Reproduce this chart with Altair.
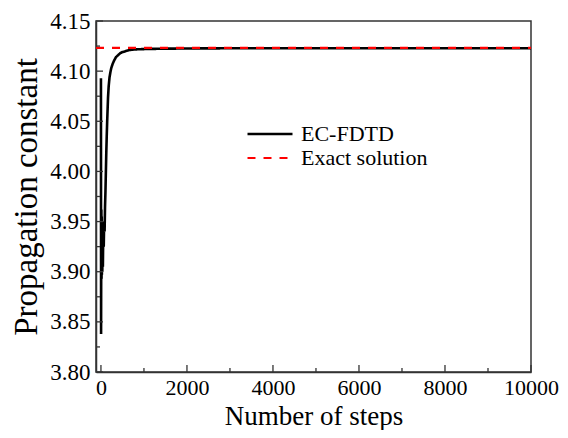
import altair as alt
import pandas as pd

# ---- data ----
series_names = ["EC-FDTD", "Exact solution"]

fdtd_steps = [0, 3, 6, 10, 14, 18, 22, 27, 32, 38, 45, 55, 65, 75, 85, 95, 105, 115,
              125, 135, 145, 155, 165, 180, 200, 220, 240, 270, 300, 350, 400, 450,
              500, 580, 660, 750, 850, 1000, 1200, 1500, 2000, 3000, 5000, 7500, 10000]
fdtd_values = [4.093, 3.838, 3.905, 3.962, 3.893, 3.955, 3.897, 3.950, 3.900, 3.948, 3.905,
               3.945, 3.925, 3.950, 3.940, 3.965, 3.980, 4.000, 4.020, 4.036, 4.050, 4.062,
               4.074, 4.085, 4.094, 4.099, 4.103, 4.107, 4.110, 4.114, 4.116, 4.118,
               4.119, 4.120, 4.121, 4.1215, 4.1218, 4.122, 4.1222, 4.1224, 4.1226, 4.1228,
               4.1229, 4.1229, 4.1229]

exact_steps = [-115, 10000]
exact_value = 4.1233

x_ticks = [0, 2000, 4000, 6000, 8000, 10000]
x_minor = [1000, 3000, 5000, 7000, 9000]
y_ticks = [3.80, 3.85, 3.90, 3.95, 4.00, 4.05, 4.10, 4.15]
y_minor = [3.825, 3.875, 3.925, 3.975, 4.025, 4.075, 4.125]

# ---- tables ----
rows = []
for i, (s, v) in enumerate(zip(fdtd_steps, fdtd_values)):
    rows.append({"step": s, "value": v, "series": series_names[0], "order": i})
for i, s in enumerate(exact_steps):
    rows.append({"step": s, "value": exact_value, "series": series_names[1], "order": i})
df = pd.DataFrame(rows)

FONT = "Liberation Serif"
W, H = 435, 351
AX = "#333333"

xscale = alt.Scale(domain=[-115, 10000], nice=False, zero=False)
yscale = alt.Scale(domain=[3.80, 4.15], nice=False, zero=False)

x_axis = alt.Axis(title="Number of steps", values=x_ticks, format="d",
                  ticks=False, grid=False, labelFont=FONT, labelFontSize=22,
                  labelColor="black", labelPadding=5, titleFont=FONT,
                  titleFontSize=27, titleFontWeight="normal", titleColor="black",
                  titleBaseline="alphabetic", titleY=52,
                  domainColor=AX, domainWidth=1.5, labelFlush=False)
y_axis = alt.Axis(title="Propagation constant", values=y_ticks, format=".2f",
                  ticks=False, grid=False, labelFont=FONT, labelFontSize=23,
                  labelColor="black", labelPadding=6, titleFont=FONT,
                  titleFontSize=33, titleFontWeight="normal", titleColor="black",
                  titlePadding=6, domainColor=AX, domainWidth=1.5, labelFlush=False)

legend_kw = dict(title=None, orient="none", legendX=150, legendY=102,
                 symbolType="stroke", symbolSize=2025, symbolStrokeWidth=2,
                 clipHeight=22, rowPadding=2,
                 labelFont=FONT, labelFontSize=22, labelColor="black",
                 labelOffset=7)

lines = alt.Chart(df).mark_line(clip=True).encode(
    x=alt.X("step:Q", scale=xscale, axis=x_axis),
    y=alt.Y("value:Q", scale=yscale, axis=y_axis),
    color=alt.Color("series:N",
                    scale=alt.Scale(domain=series_names, range=["#000000", "#ff0000"]),
                    legend=alt.Legend(**legend_kw)),
    strokeDash=alt.StrokeDash("series:N",
                              scale=alt.Scale(domain=series_names, range=[[1, 0], [8, 8]]),
                              legend=alt.Legend(**legend_kw)),
    strokeWidth=alt.StrokeWidth("series:N",
                                scale=alt.Scale(domain=series_names, range=[2.6, 2.2]),
                                legend=None),
    order="order:Q",
)

xt_major = alt.Chart(pd.DataFrame({"step": x_ticks})).mark_rule(color=AX, strokeWidth=1.3).encode(
    x=alt.X("step:Q", scale=xscale, axis=x_axis), y=alt.value(H), y2=alt.value(H - 7))
xt_minor = alt.Chart(pd.DataFrame({"step": x_minor})).mark_rule(color=AX, strokeWidth=1.3).encode(
    x=alt.X("step:Q", scale=xscale, axis=x_axis), y=alt.value(H), y2=alt.value(H - 4))
yt_major = alt.Chart(pd.DataFrame({"value": y_ticks})).mark_rule(color=AX, strokeWidth=1.3).encode(
    y=alt.Y("value:Q", scale=yscale, axis=y_axis), x=alt.value(0), x2=alt.value(7))
yt_minor = alt.Chart(pd.DataFrame({"value": y_minor})).mark_rule(color=AX, strokeWidth=1.3).encode(
    y=alt.Y("value:Q", scale=yscale, axis=y_axis), x=alt.value(0), x2=alt.value(4))

chart = alt.layer(lines, xt_major, xt_minor, yt_major, yt_minor).properties(
    width=W, height=H,
    autosize=alt.AutoSizeParams(type="none"),
    padding={"left": 88, "top": 13, "right": 552 - 88 - W, "bottom": 422 - 13 - H},
    background="white",
).configure_view(stroke=AX, strokeWidth=1.5)

chart.save("out.html", embed_options={"renderer": "svg", "actions": False})
